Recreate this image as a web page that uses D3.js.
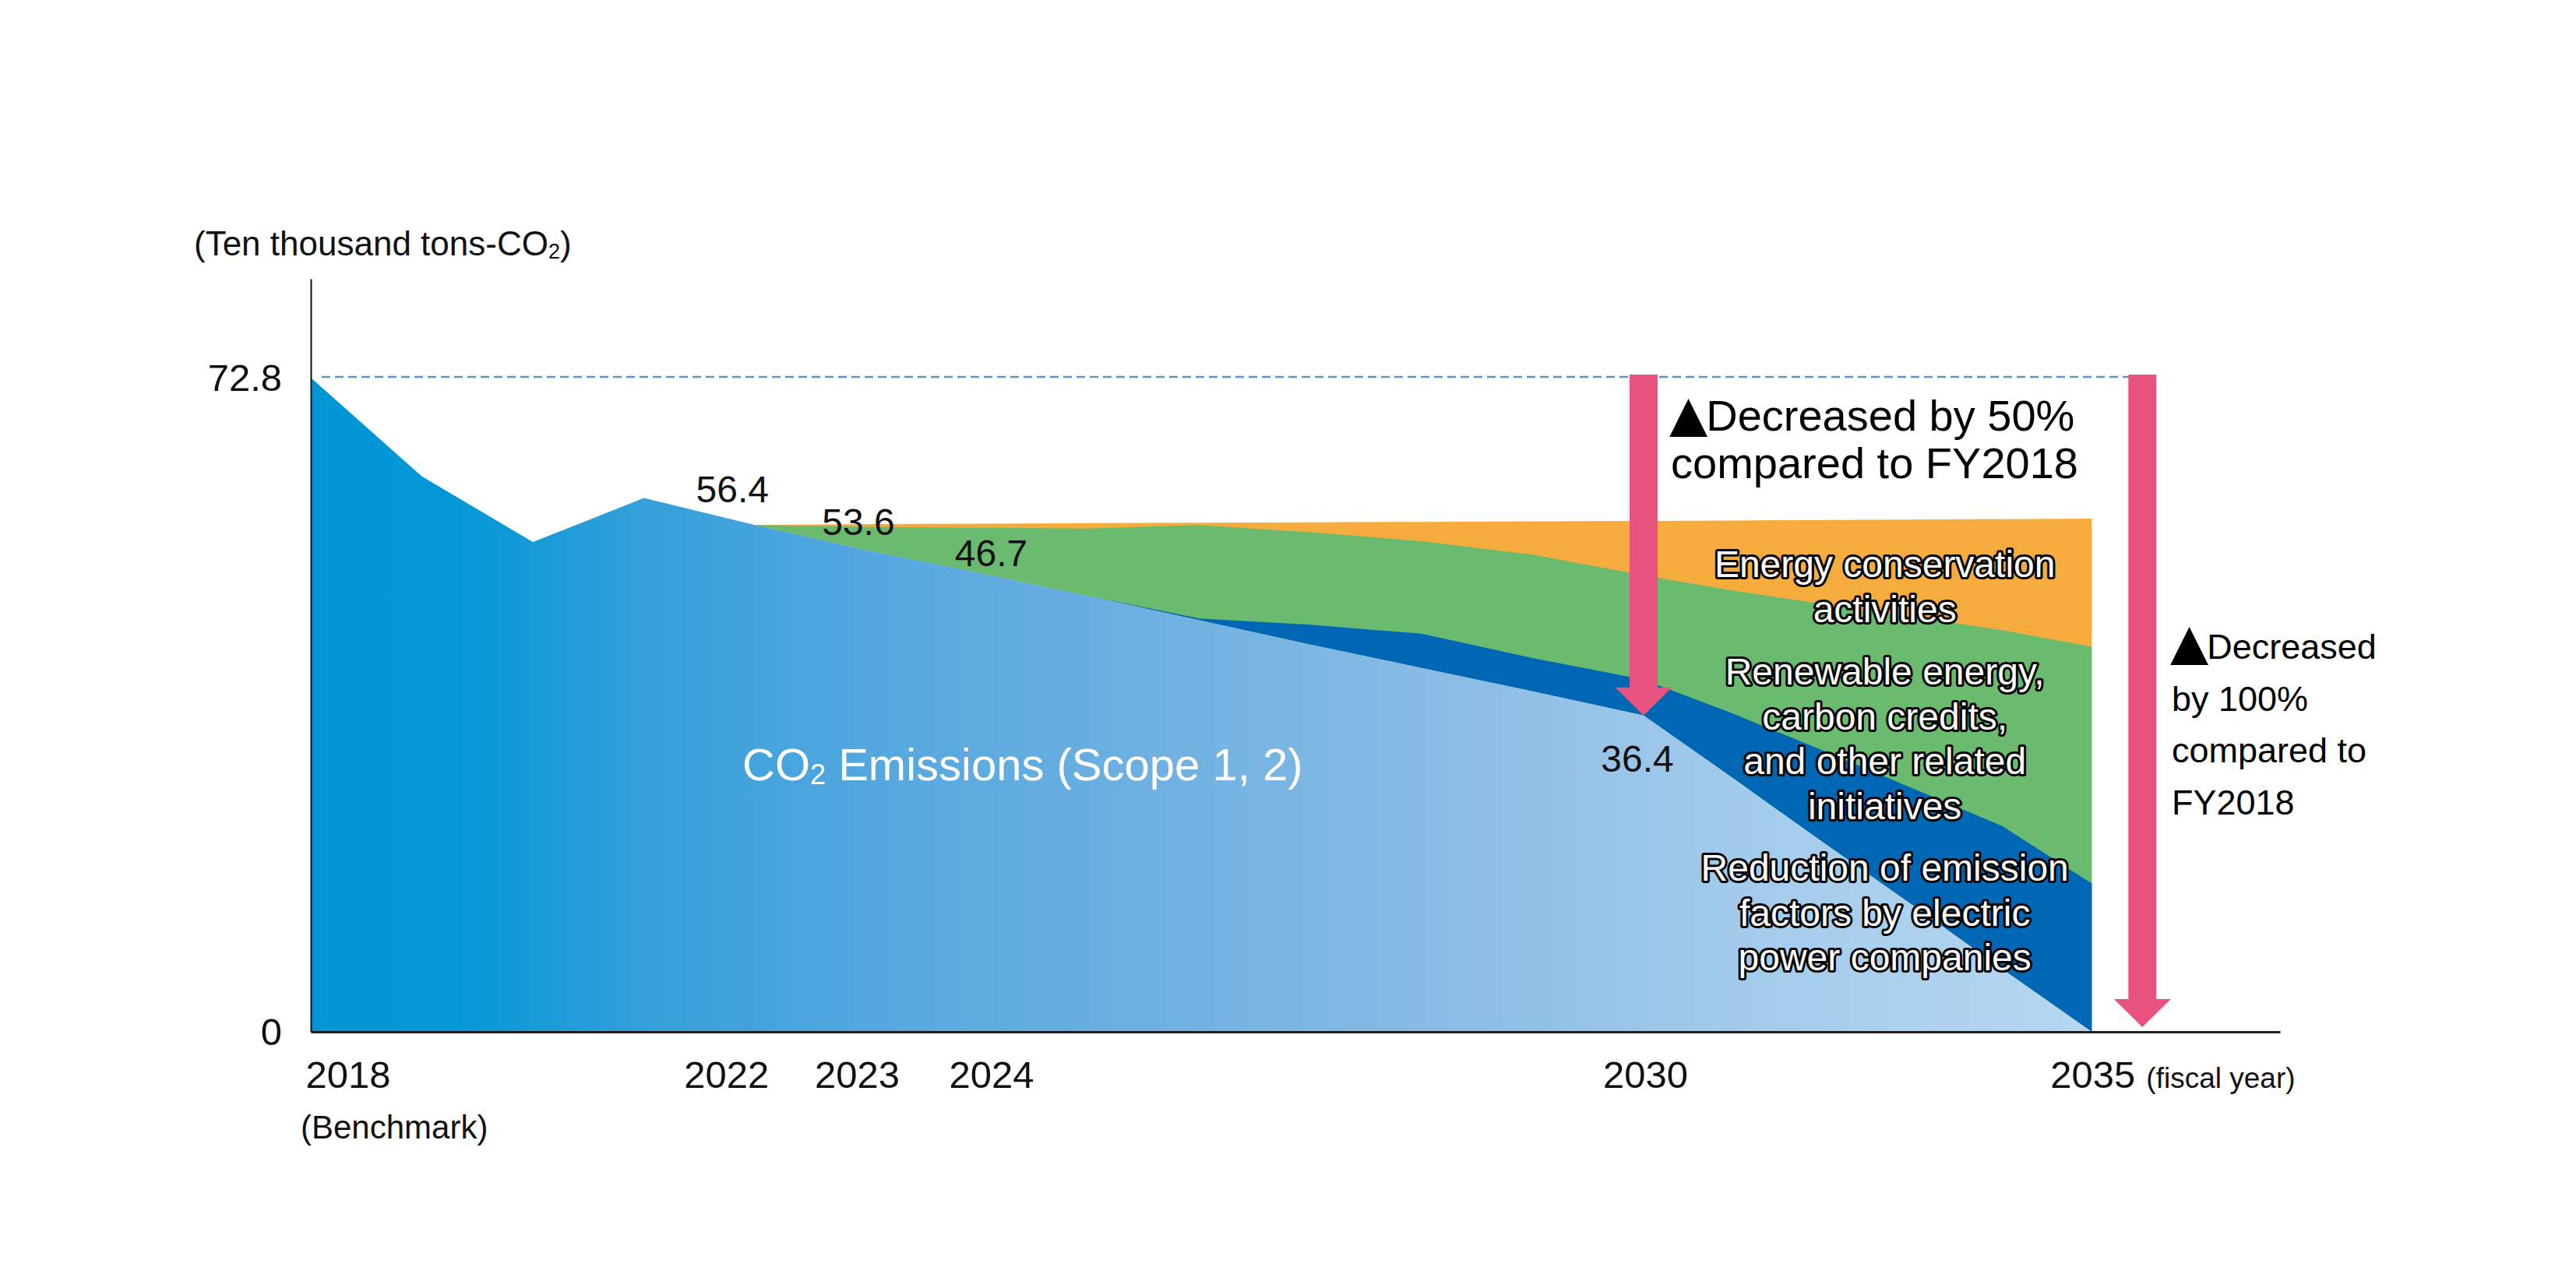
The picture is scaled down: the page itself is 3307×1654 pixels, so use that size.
<!DOCTYPE html>
<html><head><meta charset="utf-8">
<script src="https://cdn.jsdelivr.net/npm/d3@7"></script>
<style>
html,body{margin:0;padding:0;background:#fff;}
svg{display:block;font-family:"Liberation Sans",Arial,Helvetica,"DejaVu Sans",sans-serif;}
</style></head><body>
<svg id="chart" width="3307" height="1654"></svg>
<script>
// ---------------- data ----------------
const years          = [2018,2019,2020,2021,2022,2023,2024,2025,2026,2027,2028,2029,2030,2031,2032,2033,2034,2035];
const emissions      = [72.8,61.8,54.5,59.4,56.4,53.6,51.1,48.5,45.8,43.1,40.5,37.9,35.2,28.2,21.1,14.1,7.0,0];
const electricFactor = [0,0,0,0,0,0,0,0,0.2,2.2,3.8,3.7,4.0,7.2,10.2,13.0,15.9,16.5];
const renewables     = [0,0,0,0,0,2.6,5.0,7.5,10.4,10.3,10.3,11.5,11.6,13.7,16.3,19.1,21.8,26.35];
const conservation   = [0,0,0,0,0,0.3,0.45,0.6,0.25,1.1,2.15,3.7,6.05,7.8,9.35,10.8,12.35,14.25];

const tickYears   = [2018,2022,2023,2024,2030,2035];
const tickLabels  = ["2018","2022","2023","2024","2030","2035"];
const yTickValues = [0,72.8];
const yTickLabels = ["0","72.8"];
const baseValue   = 72.8;

const valueLabelYears = [2022,2023,2024,2030];
const valueLabels     = ["56.4","53.6","46.7","36.4"];

const layerNames = ["Energy conservation activities",
                    "Renewable energy, carbon credits, and other related initiatives",
                    "Reduction of emission factors by electric power companies"];

// ---------------- layout ----------------
const svg = d3.select("#chart");
const x = d3.scaleLinear().domain([2018, 2030, 2037.1]).range([399, 2110, 2927]);
const y = d3.scaleLinear().domain([0, 83.8]).range([1325, 358]);

const table = years.map((yr,i)=>({year:yr, emissions:emissions[i], electric:electricFactor[i],
                                  renewable:renewables[i], conservation:conservation[i]}));
const keys = ["emissions","electric","renewable","conservation"];
const stacked = d3.stack().keys(keys)(table);
const emTop = stacked[0];

const defs = svg.append("defs");
const grad = defs.append("linearGradient").attr("id","emGrad")
  .attr("gradientUnits","userSpaceOnUse")
  .attr("x1",x(2018)).attr("x2",x(2035)).attr("y1",0).attr("y2",0);
[[0,"#0096d6"],[0.08,"#0397d6"],[0.19,"#35a0da"],[0.32,"#55a8df"],[0.48,"#6fb1e1"],
 [0.65,"#8cbde6"],[0.8,"#a2cbeb"],[1,"#b6d7f1"]].forEach(s=>{
  grad.append("stop").attr("offset",s[0]).attr("stop-color",s[1]);
});

const fills = {electric:"#0067b4", renewable:"#6abb6f", conservation:"#f5ac3c"};
const startYear = {electric:2025, renewable:2022, conservation:2022};

// upper layers painted back-to-front, each from the emissions top up to its own top
["conservation","renewable","electric"].forEach(k=>{
  const s = stacked[keys.indexOf(k)];
  const a = d3.area()
    .defined(d=>d.data.year>=startYear[k])
    .x(d=>x(d.data.year))
    .y0((d,i)=>y(emTop[i][1]))
    .y1(d=>y(d[1]));
  svg.append("path").datum(s).attr("d",a).attr("fill",fills[k]);
});

const emArea = d3.area().x(d=>x(d.data.year)).y0(d=>y(d[0])).y1(d=>y(d[1]));
svg.append("path").datum(emTop).attr("d",emArea).attr("fill","url(#emGrad)");

// dashed benchmark line
const arrow2X = x(2035) + 65;
svg.append("line")
  .attr("x1",x(2018)+14).attr("x2",arrow2X).attr("y1",y(baseValue)-1).attr("y2",y(baseValue)-1)
  .attr("stroke","#5b93d0").attr("stroke-width",2.4).attr("stroke-dasharray","11,6");

// axes
const yAxis = d3.axisLeft(y).tickValues(yTickValues).tickSize(0).tickSizeOuter(0).tickPadding(37)
  .tickFormat((d,i)=>yTickLabels[i]);
const gy = svg.append("g").attr("transform",`translate(${x(2018)},0)`).call(yAxis);
gy.select(".domain").attr("stroke","#111").attr("stroke-width",2);
gy.selectAll("text").attr("font-size",49).attr("font-family","Liberation Sans, Arial, sans-serif")
  .attr("fill","#111").attr("dy","0.33em");

const tickNudge = {2018:-7, 2022:-37, 2023:-12, 2024:18, 2030:2, 2035:1};
const xAxis = d3.axisBottom(x).tickValues(tickYears).tickSize(0).tickSizeOuter(0)
  .tickFormat((d,i)=>tickLabels[i]);
const gx = svg.append("g").attr("transform",`translate(0,${y(0)})`).call(xAxis);
gx.select(".domain").attr("stroke","#231f20").attr("stroke-width",3);
gx.selectAll("text").attr("font-size",49).attr("font-family","Liberation Sans, Arial, sans-serif")
  .attr("fill","#111").attr("y",72).attr("dy",null)
  .attr("x",d=>tickNudge[d]).attr("text-anchor",d=>d===2018?"start":"middle");

svg.append("text").attr("x",x(2018)-13).attr("y",y(0)+137).attr("font-size",42).attr("fill","#111")
  .text("(Benchmark)");
svg.append("text").attr("x",x(2035)+70).attr("y",y(0)+72).attr("font-size",37).attr("fill","#111")
  .text("(fiscal year)");

// unit title
const title = svg.append("text").attr("x",249).attr("y",328).attr("font-size",44).attr("fill","#111");
title.append("tspan").text("(Ten thousand tons-CO");
title.append("tspan").attr("font-size",27).attr("dy",4).text("2");
title.append("tspan").attr("dy",-4).text(")");

// arrows
function arrowPath(cx, yTop, yTip, shaftW, headW, headH){
  const p = d3.path();
  p.moveTo(cx-shaftW/2, yTop);
  p.lineTo(cx+shaftW/2, yTop);
  p.lineTo(cx+shaftW/2, yTip-headH);
  p.lineTo(cx+headW/2, yTip-headH);
  p.lineTo(cx, yTip);
  p.lineTo(cx-headW/2, yTip-headH);
  p.lineTo(cx-shaftW/2, yTip-headH);
  p.closePath();
  return p.toString();
}
const i2030 = years.indexOf(2030);
svg.append("path").attr("d",arrowPath(x(2030), y(baseValue)-4, y(emissions[i2030]), 36, 73, 36)).attr("fill","#e8527f");
svg.append("path").attr("d",arrowPath(arrow2X, y(baseValue)-4, y(0)-6, 36, 73, 36)).attr("fill","#e8527f");

// value labels
const vlNudge = {2022:[-29,-29], 2023:[-10,-19], 2024:[18,-8], 2030:[-8,72]};
valueLabelYears.forEach((yr,i)=>{
  const idx = years.indexOf(yr);
  svg.append("text").attr("text-anchor","middle")
    .attr("x",x(yr)+vlNudge[yr][0]).attr("y",y(emissions[idx])+vlNudge[yr][1])
    .attr("font-size",48).attr("fill","#111").text(valueLabels[i]);
});

// CO2 emissions label
const co2 = svg.append("text").attr("x",953).attr("y",1002).attr("font-size",58).attr("fill","#fff");
co2.append("tspan").text("CO");
co2.append("tspan").attr("font-size",36).attr("dy",5).text("2");
co2.append("tspan").attr("dy",-5).text(" Emissions (Scope 1, 2)");

// annotation texts
function triangleLine(textSel, xPos, yPos, rest, size){
  const ts = textSel.append("tspan").attr("x",xPos).attr("y",yPos);
  textSel.append("tspan").attr("x",xPos).attr("y",yPos)
    .attr("font-family","DejaVu Sans").attr("font-size",64).text("▲");
  textSel.append("tspan").attr("dx",-2).attr("font-size",size).text(rest);
  ts.remove();
}
const t50 = svg.append("text").attr("font-size",56).attr("fill","#000");
triangleLine(t50, 2143, 553, "Decreased by 50%", 56);
t50.append("tspan").attr("x",2145).attr("y",614).text("compared to FY2018");

const t100 = svg.append("text").attr("font-size",45).attr("fill","#000");
triangleLine(t100, 2786, 846, "Decreased", 45);
["by 100%","compared to","FY2018"].forEach((s,i)=>{
  t100.append("tspan").attr("x",2788).attr("y",846+(i+1)*66.5).text(s);
});

// outlined layer labels
const outlined = [
  {lines:["Energy conservation","activities"], y0:741},
  {lines:["Renewable energy,","carbon credits,","and other related","initiatives"], y0:879},
  {lines:["Reduction of emission","factors by electric","power companies"], y0:1131}
];
const lblX = (x(2030)+x(2035))/2 + 22;
outlined.forEach((o,k)=>{
  const t = svg.append("text").attr("text-anchor","middle").attr("font-size",48)
    .attr("fill","#fff").attr("stroke","#000").attr("stroke-width",6)
    .attr("stroke-linejoin","round").attr("paint-order","stroke")
    .attr("aria-label",layerNames[k]);
  o.lines.forEach((s,i)=>{
    t.append("tspan").attr("x",lblX).attr("y",o.y0+i*57.5).text(s);
  });
});
</script>
</body></html>
